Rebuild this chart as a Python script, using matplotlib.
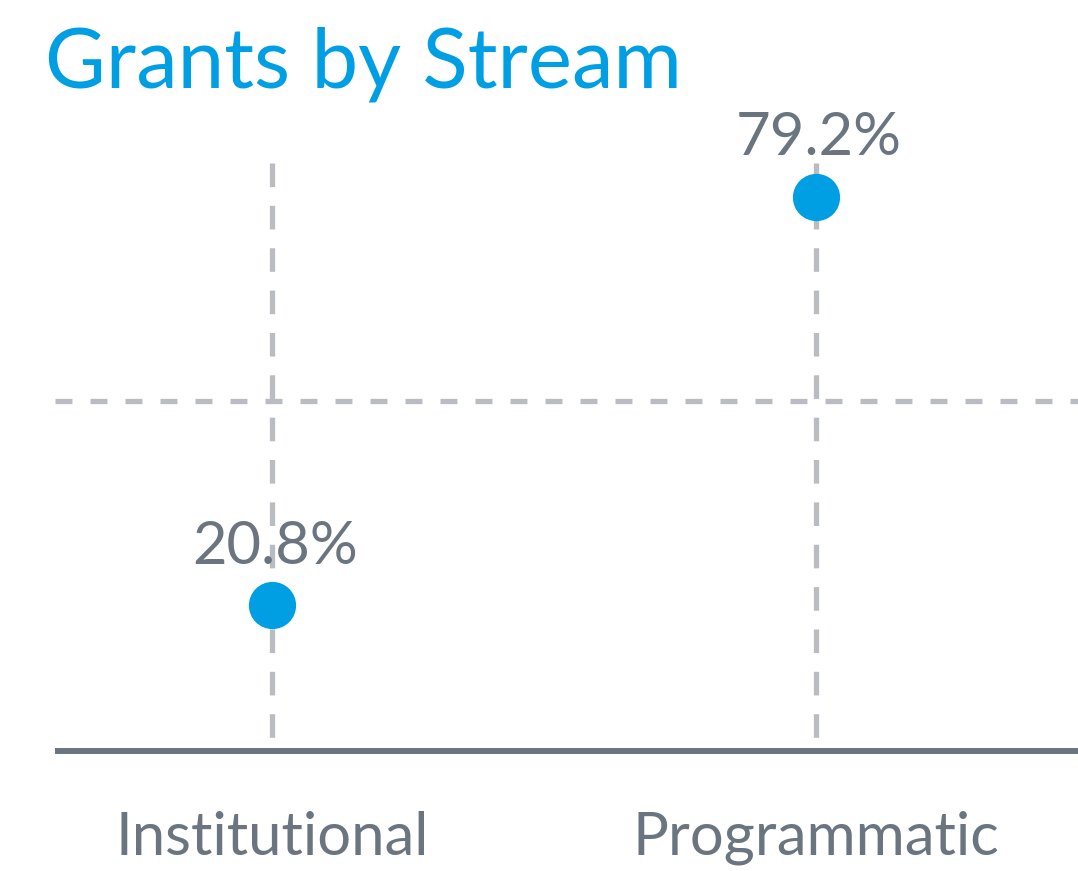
import matplotlib
matplotlib.use("Agg")
import matplotlib.pyplot as plt

categories = ["Institutional", "Programmatic"]
values = [20.8, 79.2]
value_labels = ["20.8%", "79.2%"]
title = "Grants by Stream"

W, H = 1078, 871
BLUE = "#009FE3"
GRAY = "#6B7580"
GRID = "#B9BDC2"

plt.rcParams["font.family"] = ["Lato", "DejaVu Sans"]
plt.rcParams["lines.scale_dashes"] = False

fig = plt.figure(figsize=(W / 100, H / 100), dpi=100)
ax = fig.add_axes([55 / W, 1 - 751 / H, 1 - 55 / W, (751 - 163) / H])

x = list(range(len(categories)))
ax.set_xlim(-0.40, 1.482)
YTOP = 84.0
ax.set_ylim(0, YTOP)

# grid lines (drawn top-down so the dash pattern starts at the top)
for xi in x:
    ax.plot([xi, xi], [YTOP, 0], color=GRID, lw=3.8, dashes=(17, 13.5), zorder=1)
ax.axhline(50, color=GRID, lw=3.8, dashes=(12.2, 13), zorder=1)

ax.plot(x, values, linestyle="none", marker="o", markersize=34,
        color=BLUE, markeredgewidth=0, zorder=3)

for xi, v, lab in zip(x, values, value_labels):
    ax.annotate(lab, (xi, v), xytext=(2, 30), textcoords="offset points",
                ha="center", va="baseline", fontsize=43, color=GRAY)

for s in ["top", "right", "left"]:
    ax.spines[s].set_visible(False)
ax.spines["bottom"].set_color(GRAY)
ax.spines["bottom"].set_linewidth(4.3)
ax.spines["bottom"].set_capstyle("butt")
ax.set_yticks([])
ax.set_xticks(x)
ax.set_xticklabels(categories, fontsize=43, color=GRAY)
ax.tick_params(axis="x", length=0, pad=43)

fig.text(45 / W, 1 - 88 / H, title, fontsize=60, color=BLUE,
         ha="left", va="baseline")

fig.savefig("out.png", dpi=100, facecolor="white")
